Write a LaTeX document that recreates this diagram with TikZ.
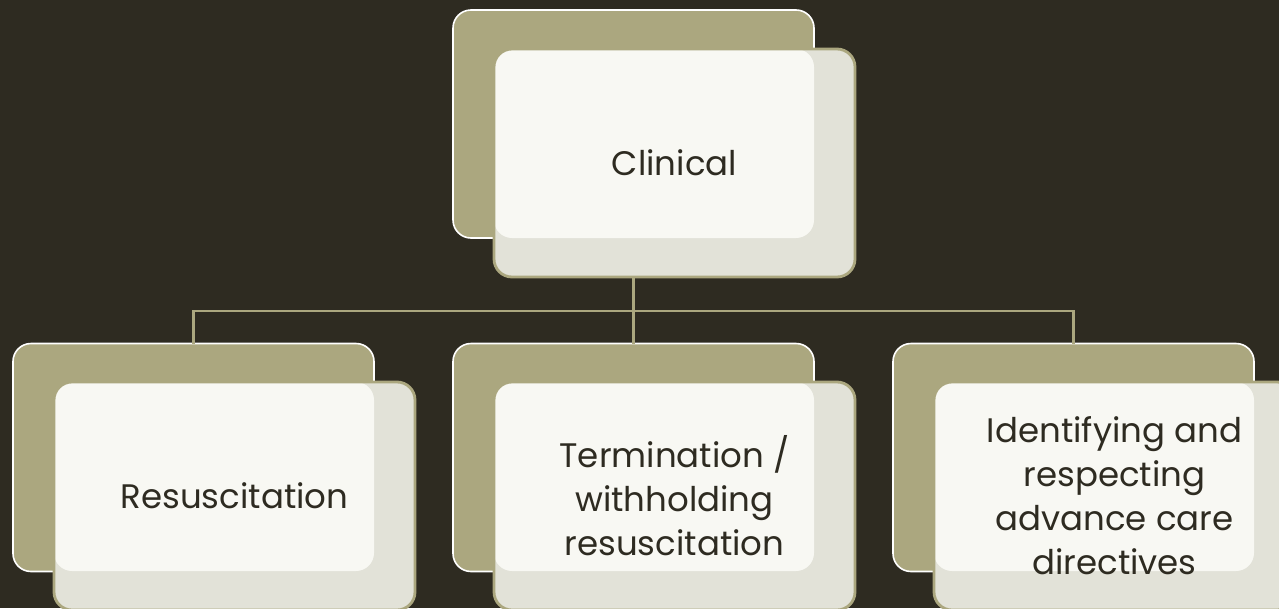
\documentclass[tikz,border=0pt]{standalone}
\usepackage{fontspec}
\setmainfont{Poppins}
\definecolor{bg}{HTML}{2E2B21}
\definecolor{olive}{HTML}{ABA77F}
\definecolor{frontfill}{HTML}{E2E2D8}
\definecolor{glow}{HTML}{F8F8F3}
\definecolor{ink}{HTML}{2E2B21}
\begin{document}
\begin{tikzpicture}[x=1pt,y=-1pt,
  backbox/.style={draw=white, line width=1.6pt, fill=olive, rounded corners=18pt,
    minimum width=361pt, minimum height=228pt, inner sep=0pt, outer sep=0pt},
  frontbox/.style={draw=olive, line width=2.8pt, fill=frontfill, rounded corners=18pt,
    minimum width=361pt, minimum height=228pt, inner sep=0pt, outer sep=0pt,
    text=ink, align=center, font=\fontsize{34}{44}\selectfont,
    path picture={\fill[glow, rounded corners=18pt]
      (path picture bounding box.north west) rectangle ++(320pt,-189pt);}},
  conn/.style={draw=olive, line width=2.5pt}]
\fill[bg] (0,0) rectangle (1279,608);
\useasboundingbox (0,0) rectangle (1279,608);
% top
\node[backbox] (tb) at (633.5,124) {};
\node[frontbox] (tf) at (674.5,163) {Clinical};
% bottom
\node[backbox] (lb) at (193.5,457.5) {};
\node[frontbox] (lf) at (234.5,496) {Resuscitation};
\node[backbox] (mb) at (633.5,457.5) {};
\node[frontbox] (mf) at (674.5,496) {Termination /\\withholding\\resuscitation};
\node[backbox] (rb) at (1073.5,457.5) {};
\node[frontbox] (rf) at (1114.5,496) {Identifying and\\respecting\\advance care\\directives};
% connectors
\coordinate (j) at (tb.center |- 0,311);
\draw[conn] (tb.center |- tf.south) -- (j);
\draw[conn] (lb.north) |- (j);
\draw[conn] (rb.north) |- (j);
\draw[conn] (j) -- (mb.north);
\end{tikzpicture}
\end{document}
